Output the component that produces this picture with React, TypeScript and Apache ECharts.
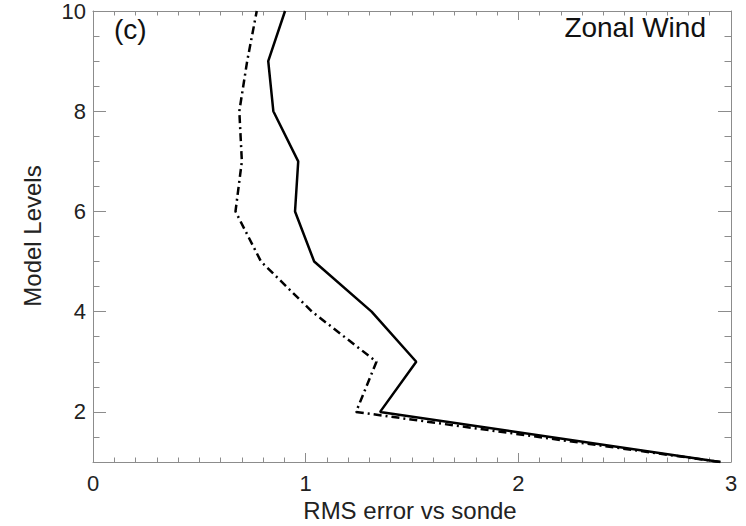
import React, { useEffect, useRef } from "react";
import * as echarts from "echarts";

const levels = [1, 2, 3, 4, 5, 6, 7, 8, 9, 10];
const solidRms = [2.95, 1.35, 1.52, 1.31, 1.04, 0.95, 0.965, 0.848, 0.824, 0.903];
const dashDotRms = [2.95, 1.237, 1.333, 1.03, 0.79, 0.67, 0.7, 0.688, 0.725, 0.77];
const yMajorTicks = [2, 4, 6, 8, 10];
const yMinorTicks = [1.5, 2.5, 3, 3.5, 4.5, 5, 5.5, 6.5, 7, 7.5, 8.5, 9, 9.5];
const xTitle = "RMS error vs sonde";
const yTitle = "Model Levels";
const panelLabel = "(c)";
const panelTitle = "Zonal Wind";

const FONT = "'Liberation Sans', Arial, Helvetica, sans-serif";
const AXIS_GRAY = "#8c8c8c";

export default function App() {
  const ref = useRef<HTMLDivElement>(null);
  useEffect(() => {
    if (!ref.current) return;
    const chart = echarts.init(ref.current, null, { renderer: "svg" });
    const xBase = (pos: "bottom" | "top", labels: boolean) => ({
      type: "value",
      position: pos,
      min: 0,
      max: 3,
      interval: 1,
      axisLine: { show: true, lineStyle: { color: AXIS_GRAY, width: 1 } },
      axisTick: { show: true, inside: true, length: 9, lineStyle: { color: AXIS_GRAY } },
      minorTick: { show: true, splitNumber: 10, length: 4.5, lineStyle: { color: AXIS_GRAY } },
      splitLine: { show: false },
      minorSplitLine: { show: false },
      axisLabel: {
        show: labels,
        margin: 10,
        fontSize: 22,
        fontFamily: FONT,
        color: "#222",
      },
    });
    const yMajor = (pos: "left" | "right", labels: boolean) => ({
      type: "value",
      position: pos,
      min: 1,
      max: 10,
      axisLine: { show: true, lineStyle: { color: AXIS_GRAY, width: 1 } },
      axisTick: {
        show: true,
        inside: true,
        length: 13,
        customValues: yMajorTicks,
        lineStyle: { color: AXIS_GRAY },
      },
      splitLine: { show: false },
      axisLabel: {
        show: labels,
        customValues: yMajorTicks,
        margin: 7,
        fontSize: 22,
        fontFamily: FONT,
        color: "#222",
      },
    });
    const yMinor = (pos: "left" | "right") => ({
      type: "value",
      position: pos,
      min: 1,
      max: 10,
      axisLine: { show: false },
      axisTick: {
        show: true,
        inside: true,
        length: 6.5,
        customValues: yMinorTicks,
        lineStyle: { color: AXIS_GRAY },
      },
      splitLine: { show: false },
      axisLabel: { show: false, customValues: yMinorTicks },
    });
    chart.setOption({
      animation: false,
      backgroundColor: "#ffffff",
      grid: { left: 93, top: 9, right: 15, bottom: 64, containLabel: false },
      xAxis: [xBase("bottom", true), xBase("top", false)],
      yAxis: [yMajor("left", true), yMinor("left"), yMajor("right", false), yMinor("right")],
      graphic: [
        {
          type: "text",
          x: 114,
          y: 29,
          style: {
            text: panelLabel,
            font: `28px ${FONT}`,
            fill: "#111",
            textAlign: "left",
            textVerticalAlign: "middle",
          },
        },
        {
          type: "text",
          x: 706,
          y: 27,
          style: {
            text: panelTitle,
            font: `28px ${FONT}`,
            fill: "#111",
            textAlign: "right",
            textVerticalAlign: "middle",
          },
        },
        {
          type: "text",
          x: 410,
          y: 510,
          style: {
            text: xTitle,
            font: `24px ${FONT}`,
            fill: "#222",
            textAlign: "center",
            textVerticalAlign: "middle",
          },
        },
        {
          type: "text",
          x: 32,
          y: 236,
          rotation: Math.PI / 2,
          style: {
            text: yTitle,
            font: `24px ${FONT}`,
            fill: "#222",
            textAlign: "center",
            textVerticalAlign: "middle",
          },
        },
      ],
      series: [
        {
          type: "line",
          xAxisIndex: 0,
          yAxisIndex: 0,
          data: levels.map((lv, i) => [solidRms[i], lv]),
          showSymbol: false,
          symbol: "none",
          lineStyle: { color: "#000", width: 2.5, type: "solid" },
          z: 3,
        },
        {
          type: "line",
          xAxisIndex: 0,
          yAxisIndex: 0,
          data: levels.map((lv, i) => [dashDotRms[i], lv]),
          showSymbol: false,
          symbol: "none",
          lineStyle: { color: "#000", width: 2.5, type: [8, 4, 2, 4] },
          z: 2,
        },
      ],
    });
    return () => chart.dispose();
  }, []);
  return (
    <div
      ref={ref}
      style={{ position: "fixed", left: 0, top: 0, width: 746, height: 526, background: "#fff" }}
    />
  );
}
